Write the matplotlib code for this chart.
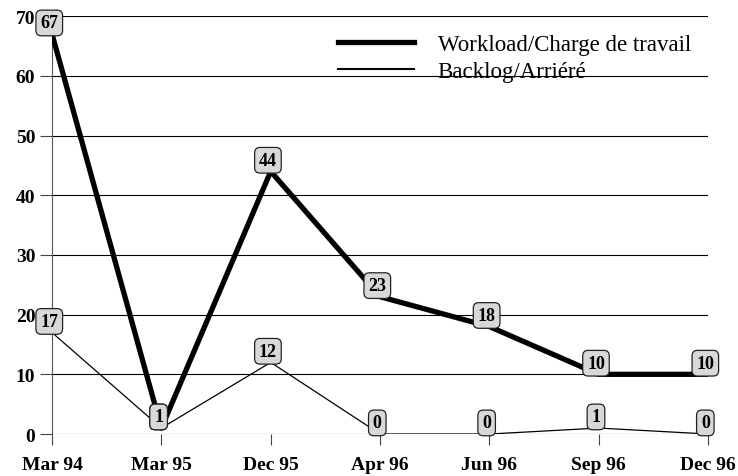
import matplotlib.pyplot as plt

periods = ["Mar 94", "Mar 95", "Dec 95", "Apr 96", "Jun 96", "Sep 96", "Dec 96"]
workload = [67, 1, 44, 23, 18, 10, 10]
backlog = [17, 1, 12, 0, 0, 1, 0]

plt.rcParams['font.family'] = ['Liberation Serif', 'DejaVu Serif']

fig = plt.figure(figsize=(7.38, 4.77), dpi=100)
ax = fig.add_axes([0.0705, 0.088, 0.889, 0.876])

x = list(range(len(periods)))
ax.plot(x, workload, color='black', lw=3.8, label="Workload/Charge de travail", zorder=3)
ax.plot(x, backlog, color='black', lw=0.9, label="Backlog/Arriéré", zorder=3)

box = dict(boxstyle='round,pad=0.24,rounding_size=0.3', fc='#d8d8d8', ec='#222222', lw=0.9)
for xi, v in zip(x, workload):
    ax.annotate(str(v), (xi, v), xytext=(-2, 8), textcoords='offset points',
                ha='center', va='center', fontsize=13, fontweight='bold', bbox=box, zorder=5)
for xi, v in zip(x, backlog):
    ax.annotate(str(v), (xi, v), xytext=(-2, 8), textcoords='offset points',
                ha='center', va='center', fontsize=13, fontweight='bold', bbox=box, zorder=5)

ax.set_xlim(0, len(periods) - 1)
ax.set_ylim(0, 70)
ax.set_xticks(x)
ax.set_xticklabels(periods, fontsize=14, fontweight='bold')
ax.set_yticks(range(0, 71, 10))
ax.set_yticklabels([str(t) for t in range(0, 71, 10)], fontsize=14, fontweight='bold')
ax.tick_params(axis='y', length=9, width=0.8, color='#444444', pad=3)
ax.tick_params(axis='x', length=8, width=0.8, color='#444444', pad=8)
ax.yaxis.grid(True, color='black', lw=0.8)
ax.set_axisbelow(True)

for s in ['top', 'right', 'bottom']:
    ax.spines[s].set_visible(False)
ax.spines['left'].set_color('#555555')
ax.spines['left'].set_linewidth(0.8)

leg = ax.legend(loc='upper left', bbox_to_anchor=(0.436, 0.958), frameon=False,
                fontsize=16.5, handlelength=3.3, handletextpad=1.05, labelspacing=0.25,
                borderpad=0, borderaxespad=0)
leg.get_lines()[1].set_linewidth(1.5)
leg.set_zorder(0.5)

fig.savefig("out.png", dpi=100)
